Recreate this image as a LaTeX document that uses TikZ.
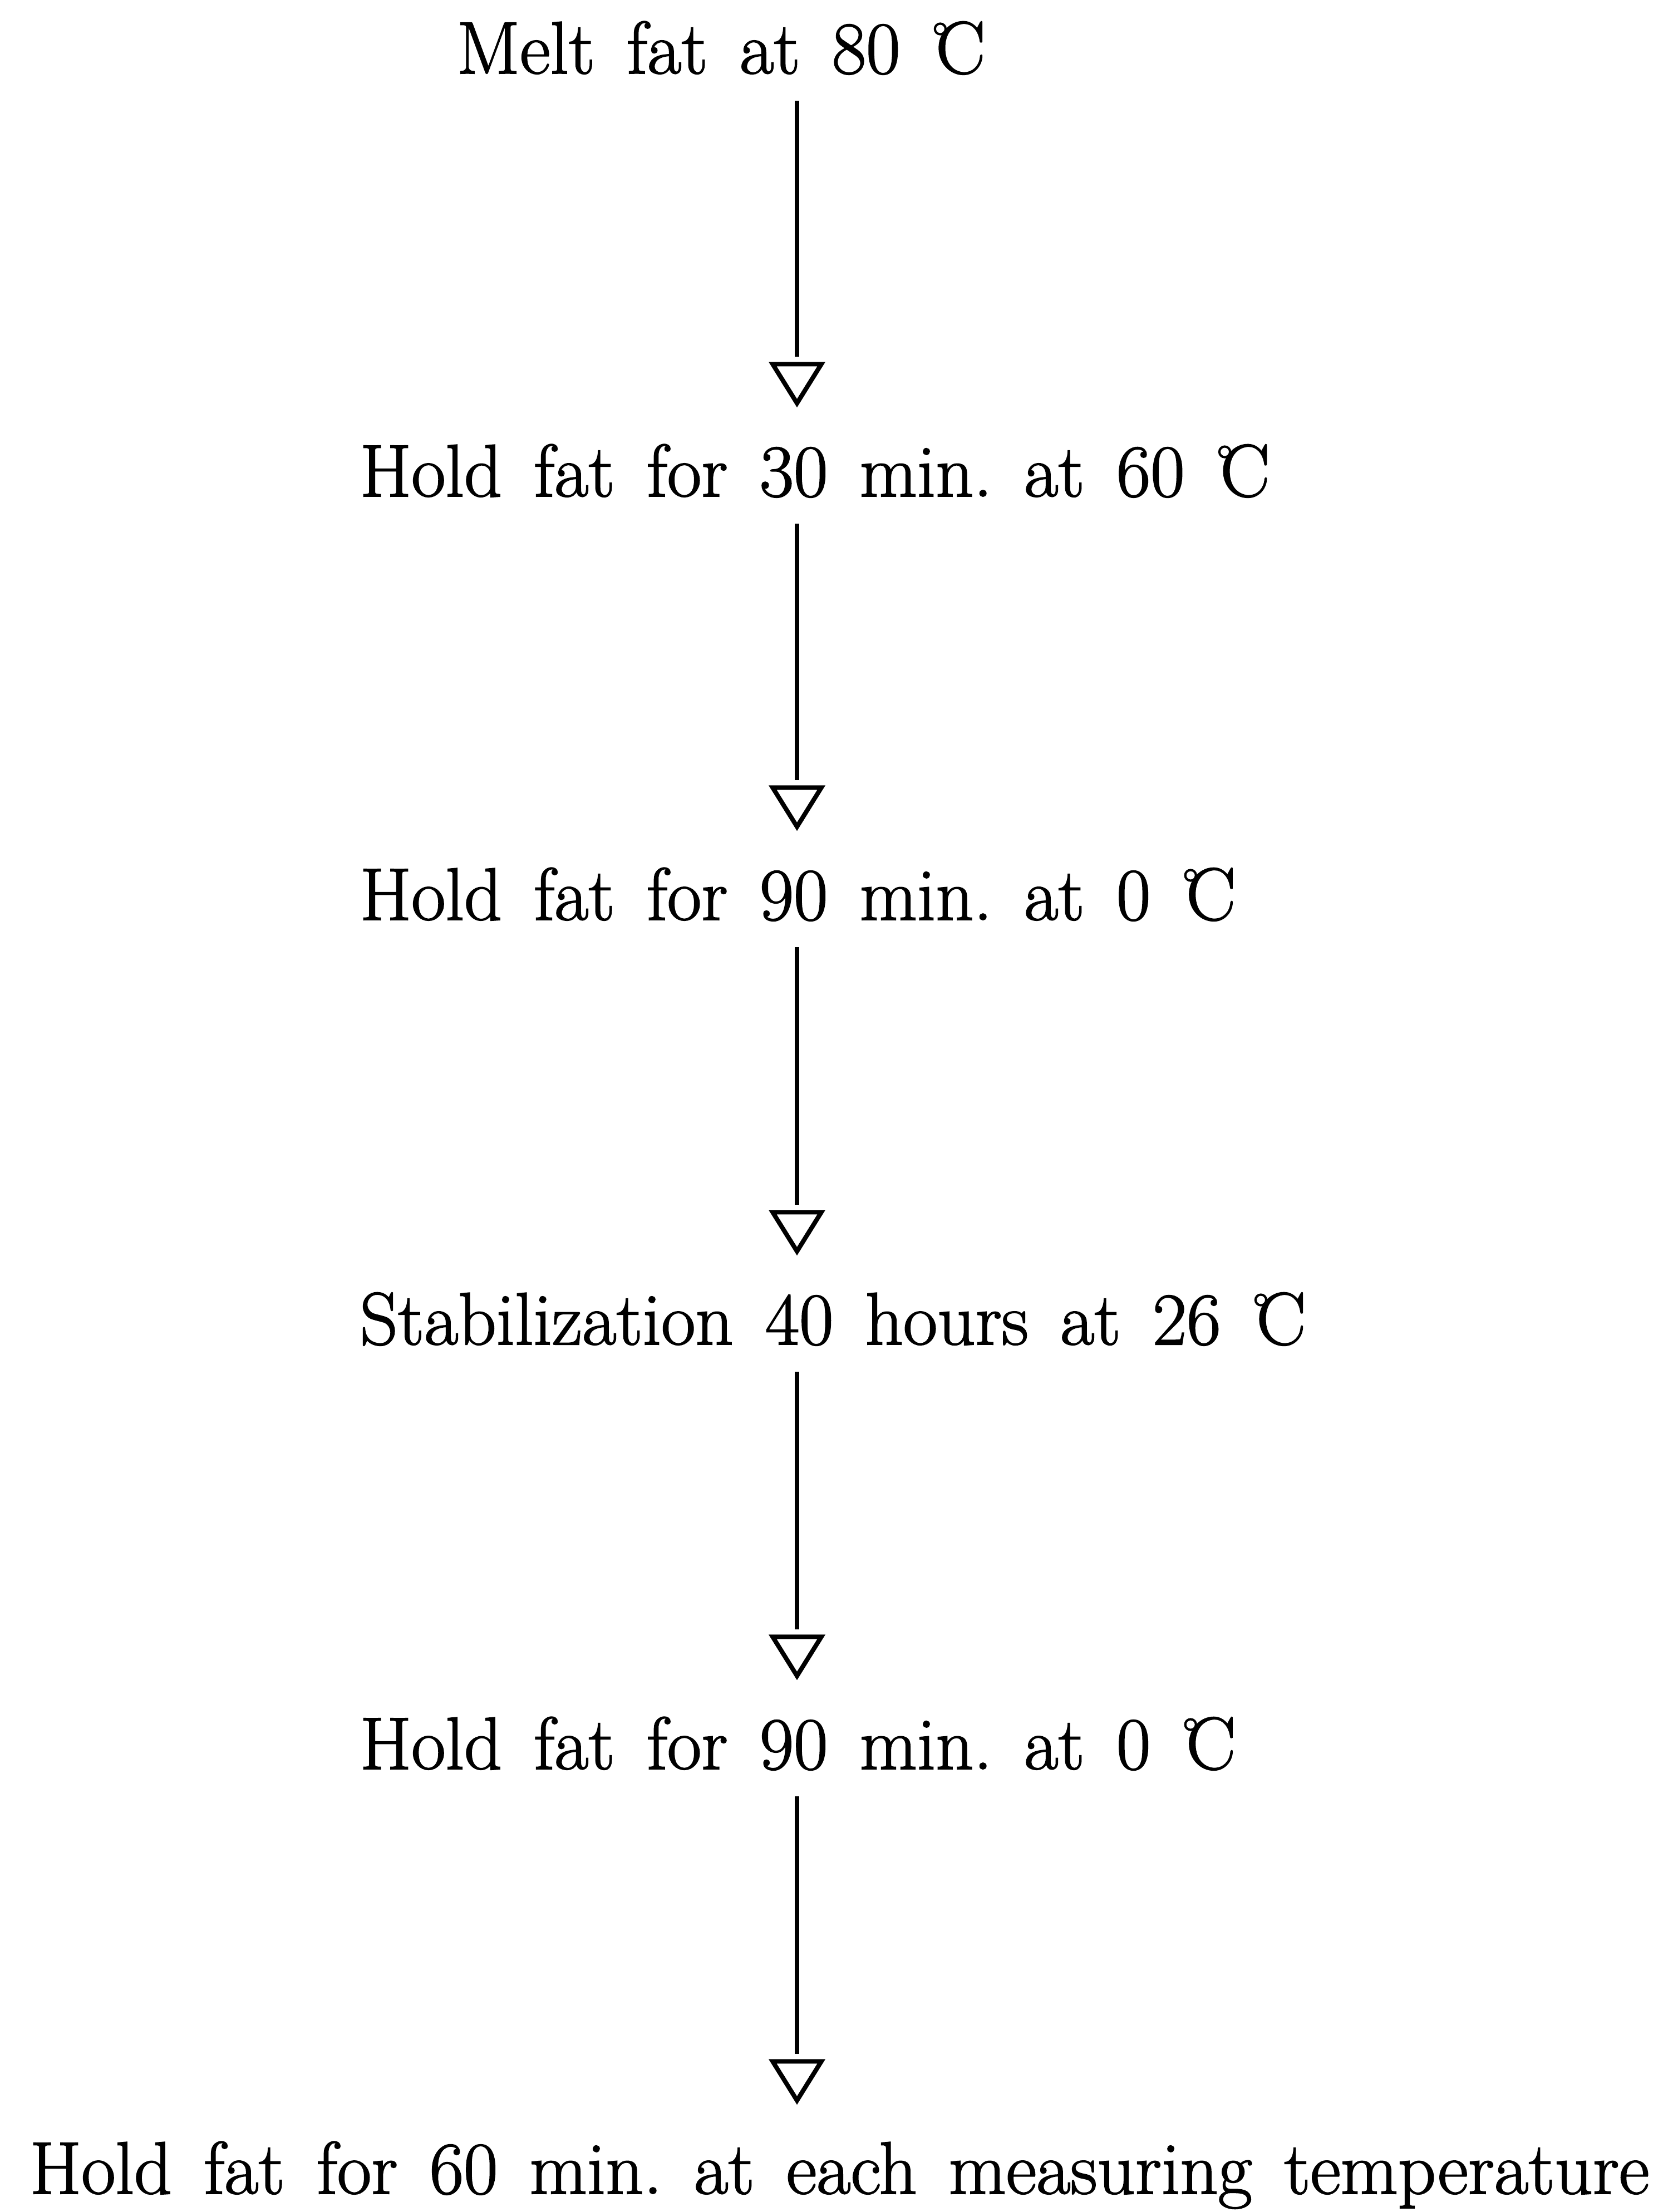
\documentclass[tikz,border=0pt]{standalone}
\usepackage{fontspec}
\setmainfont{Latin Modern Roman}[FakeBold=1.5]
\usepackage{tikz}
\usetikzlibrary{arrows.meta,calc,positioning}
\newcommand{\degC}{\raisebox{0.25em}{\fontsize{24}{24}\selectfont°}\kern-0.17em C}
\newcommand{\stagefont}{\fontsize{38}{40}\selectfont\frenchspacing\spaceskip=16.3pt\relax}

\begin{document}
\begin{tikzpicture}[
  stage/.style={anchor=west, inner sep=0pt, text height=0.92cm, text depth=0pt,
    font=\stagefont},
  flowline/.style={line width=2.3pt, shorten <=0.48cm, shorten >=1.58cm},
  flowhead/.style={line width=2.3pt, draw=white,
    -{Triangle[open, color=black, length=0.82cm, width=1.0cm]},
    shorten <=0.48cm, shorten >=0.67cm}
]
  \useasboundingbox (0,0) rectangle (29.88,-39.75);
  \coordinate (ax) at (14.32,0);

  \node[stage] (melt)   at (8.20,-0.86)  {Melt fat at 80 \degC};
  \node[stage] (hold60) at (6.46,-8.46)  {Hold fat for 30 min. at 60 \degC};
  \node[stage] (cool1)  at (6.46,-16.07) {Hold fat for 90 min. at 0 \degC};
  \node[stage] (stab)   at (6.46,-23.70) {Stabilization 40 hours at 26 \degC};
  \node[stage] (cool2)  at (6.46,-31.33) {Hold fat for 90 min. at 0 \degC};
  \node[stage] (meas)   at (0.53,-38.96) {Hold fat for 60 min. at each measuring temperature};

  % open head first, then the line stopping short of it
  \foreach \a/\b in {melt/hold60,hold60/cool1,cool1/stab,stab/cool2,cool2/meas}
    \path (\a.south -| ax) edge[flowhead] (\b.north -| ax)
                           edge[flowline] (\b.north -| ax);
\end{tikzpicture}
\end{document}
